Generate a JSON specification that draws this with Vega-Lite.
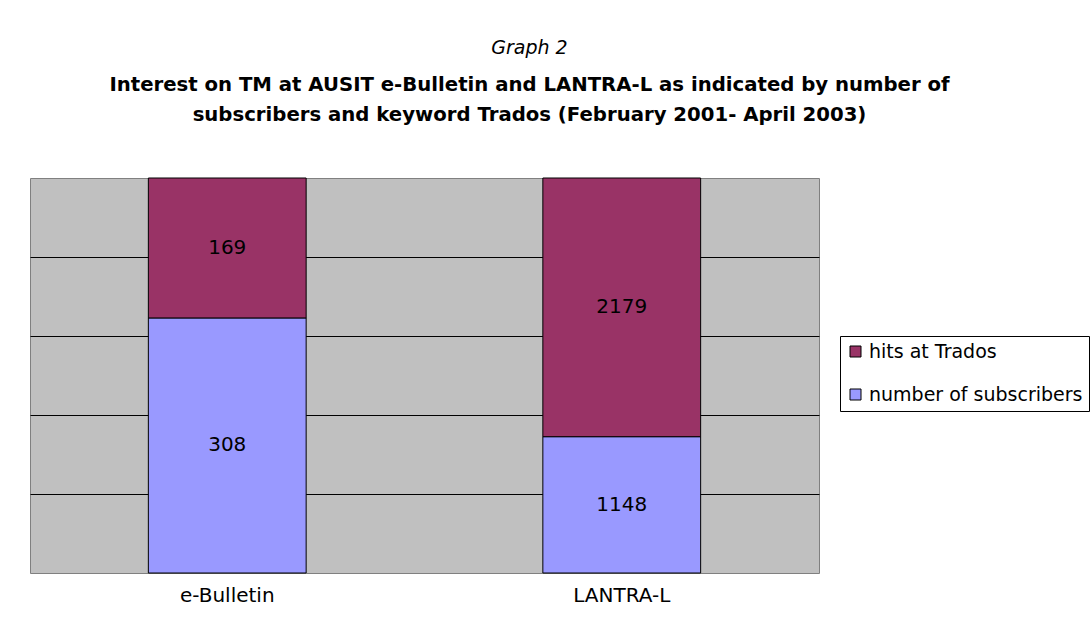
{
  "$schema": "https://vega.github.io/schema/vega-lite/v6.json",
  "width": 789,
  "height": 395,
  "autosize": {"type": "none"},
  "padding": {"left": 30, "top": 178, "right": 271, "bottom": 59},
  "background": "white",
  "title": {
    "text": "Graph 2",
    "subtitle": ["Interest on TM at AUSIT e-Bulletin and LANTRA-L as indicated by number of", "subscribers and keyword Trados  (February 2001- April 2003)"],
    "anchor": "middle",
    "frame": "group",
    "dx": 105,
    "offset": 53,
    "font": "DejaVu Sans",
    "fontSize": 19,
    "fontStyle": "italic",
    "fontWeight": "normal",
    "color": "black",
    "subtitleFont": "DejaVu Sans",
    "subtitleFontSize": 19.7,
    "subtitleFontWeight": "bold",
    "subtitleColor": "black",
    "subtitleLineHeight": 30,
    "subtitlePadding": 17
  },
  "data": {
    "values": [
      {"list": "e-Bulletin", "series": "number of subscribers", "value": 308},
      {"list": "e-Bulletin", "series": "hits at Trados", "value": 169},
      {"list": "LANTRA-L", "series": "number of subscribers", "value": 1148},
      {"list": "LANTRA-L", "series": "hits at Trados", "value": 2179}
    ]
  },
  "transform": [
    {"stack": "value", "groupby": ["list"], "sort": [{"field": "series", "order": "descending"}], "offset": "normalize", "as": ["y0", "y1"]},
    {"calculate": "(datum.y0 + datum.y1) / 2", "as": "ymid"}
  ],
  "encoding": {
    "x": {
      "field": "list",
      "type": "nominal",
      "sort": ["e-Bulletin", "LANTRA-L"],
      "scale": {"paddingInner": 0.6, "paddingOuter": 0.3},
      "axis": {"title": null, "labelAngle": 0, "domain": false, "ticks": false, "labelFont": "DejaVu Sans", "labelFontSize": 20, "labelColor": "black", "labelPadding": 12}
    }
  },
  "layer": [
    {
      "mark": {"type": "bar", "stroke": "black", "strokeWidth": 1},
      "encoding": {
        "y": {
          "field": "y0",
          "type": "quantitative",
          "scale": {"domain": [0, 1], "nice": false},
          "axis": {"title": null, "labels": false, "ticks": false, "domain": false, "grid": true, "values": [0.2, 0.4, 0.6, 0.8], "gridColor": "black", "gridOpacity": 1, "gridWidth": 1}
        },
        "y2": {"field": "y1"},
        "color": {
          "field": "series",
          "type": "nominal",
          "scale": {"domain": ["hits at Trados", "number of subscribers"], "range": ["#993366", "#9999FF"]},
          "legend": {
            "title": null,
            "orient": "none",
            "legendX": 810,
            "legendY": 158,
            "direction": "vertical",
            "symbolType": "square",
            "symbolSize": 121,
            "symbolStrokeColor": "black",
            "symbolStrokeWidth": 1,
            "symbolOpacity": 1,
            "labelFont": "DejaVu Sans",
            "labelFontSize": 19,
            "labelColor": "black",
            "labelOffset": 4,
            "labelLimit": 400,
            "strokeColor": "black",
            "fillColor": "white",
            "padding": 6,
            "rowPadding": 23
          }
        }
      }
    },
    {
      "mark": {"type": "text", "font": "DejaVu Sans", "fontSize": 20, "color": "black", "baseline": "middle"},
      "encoding": {
        "y": {"field": "ymid", "type": "quantitative"},
        "text": {"field": "value", "type": "quantitative"}
      }
    }
  ],
  "config": {"view": {"fill": "#C0C0C0", "stroke": "#808080", "strokeWidth": 1}}
}
